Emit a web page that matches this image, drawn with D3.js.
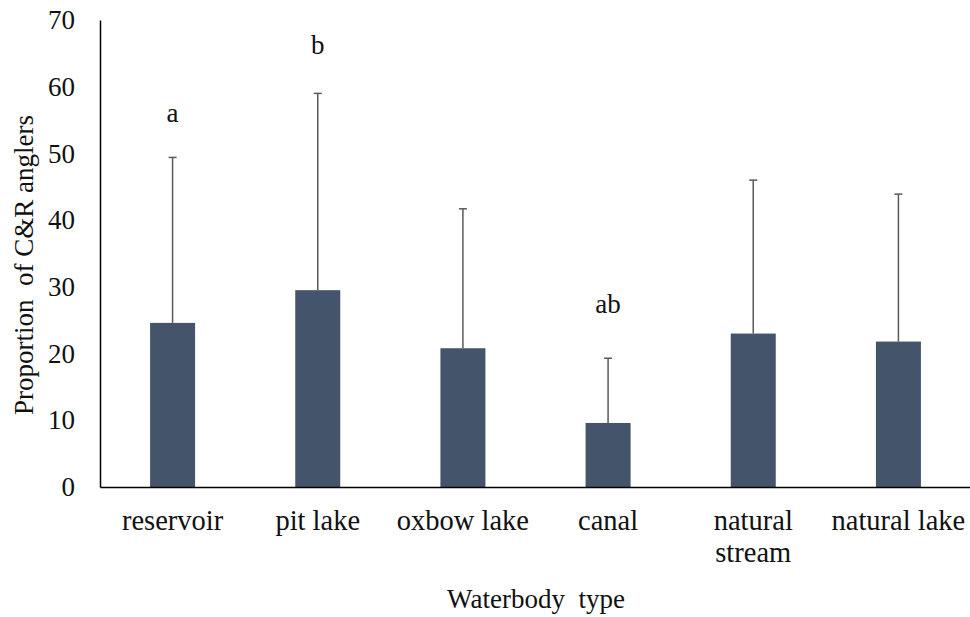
<!DOCTYPE html>
<html><head><meta charset="utf-8">
<script src="https://cdn.jsdelivr.net/npm/d3@7"></script>
<style>body{margin:0;background:#fff}svg{display:block}</style>
</head><body>
<svg id="c" width="970" height="617"></svg>
<script>
const categories = ["reservoir","pit lake","oxbow lake","canal","natural stream","natural lake"];
const labelLines = [["reservoir"],["pit lake"],["oxbow lake"],["canal"],["natural","stream"],["natural lake"]];
const means = [24.6, 29.5, 20.8, 9.6, 23.0, 21.8];
const upper = [49.4, 59.0, 41.7, 19.3, 46.0, 43.9];
const letters = ["a","b","","ab","",""];
const letterAt = [54.7, 64.9, 0, 26.1, 0, 0];
const yTicks = [0,10,20,30,40,50,60,70];

const FONT = "'Liberation Serif', 'Times New Roman', Times, serif";
const svg = d3.select("#c").style("font-family", FONT);
const x = d3.scaleBand().domain(categories).range([100, 971]).padding(0);
const y = d3.scaleLinear().domain([0,70]).range([487, 20]);
const bw = x.bandwidth()*0.31;
const cxOf = d => x(d)+x.bandwidth()/2;

// bars
svg.selectAll("rect.bar").data(categories).join("rect")
  .attr("x", d => cxOf(d)-bw/2)
  .attr("y", (d,i) => y(means[i]))
  .attr("width", bw)
  .attr("height", (d,i) => y(0)-y(means[i]))
  .attr("fill", "#44546A");

// error bars
const eb = svg.append("g").attr("stroke","#595959").attr("stroke-width",1.5);
categories.forEach((c,i) => {
  const cx = cxOf(c);
  eb.append("line").attr("x1",cx).attr("x2",cx).attr("y1",y(means[i])).attr("y2",y(upper[i]));
  eb.append("line").attr("x1",cx-4).attr("x2",cx+4).attr("y1",y(upper[i])).attr("y2",y(upper[i]));
});

// significance letters
categories.forEach((c,i) => {
  if (!letters[i]) return;
  svg.append("text").attr("x", cxOf(c)).attr("y", y(letterAt[i]))
    .attr("text-anchor","middle").attr("font-size",27).attr("fill","#111")
    .style("font-family", FONT).text(letters[i]);
});

// y axis
const yAxis = d3.axisLeft(y).tickValues(yTicks).tickSize(0).tickPadding(25);
const gy = svg.append("g").attr("transform","translate(100,0)").call(yAxis);
gy.attr("font-family", null).attr("font-size", null);
gy.select(".domain").attr("stroke","#000").attr("stroke-width",1.5);
gy.selectAll("text").attr("font-size",27).style("font-family", FONT).attr("fill","#111");

// x axis
const xAxis = d3.axisBottom(x).tickSize(0).tickFormat("");
const gx = svg.append("g").attr("transform","translate(0,487)").call(xAxis);
gx.select(".domain").attr("stroke","#000").attr("stroke-width",1.5);

// category labels
categories.forEach((c,i) => {
  const t = svg.append("text").attr("x", cxOf(c)).attr("y", 530)
    .attr("text-anchor","middle").attr("font-size",28.5).attr("fill","#111").style("font-family", FONT);
  labelLines[i].forEach((l,j) => t.append("tspan").attr("x", cxOf(c)).attr("dy", j===0?0:32).text(l));
});

// axis titles
svg.append("text").attr("x",536).attr("y",608).attr("text-anchor","middle").attr("font-size",27).attr("fill","#111")
  .style("font-family", FONT).style("white-space","pre").text("Waterbody  type");
svg.append("text").attr("transform","translate(33,265) rotate(-90)").attr("text-anchor","middle").attr("font-size",27).attr("fill","#111")
  .style("font-family", FONT).style("white-space","pre").text("Proportion  of C&R anglers");
</script>
</body></html>
